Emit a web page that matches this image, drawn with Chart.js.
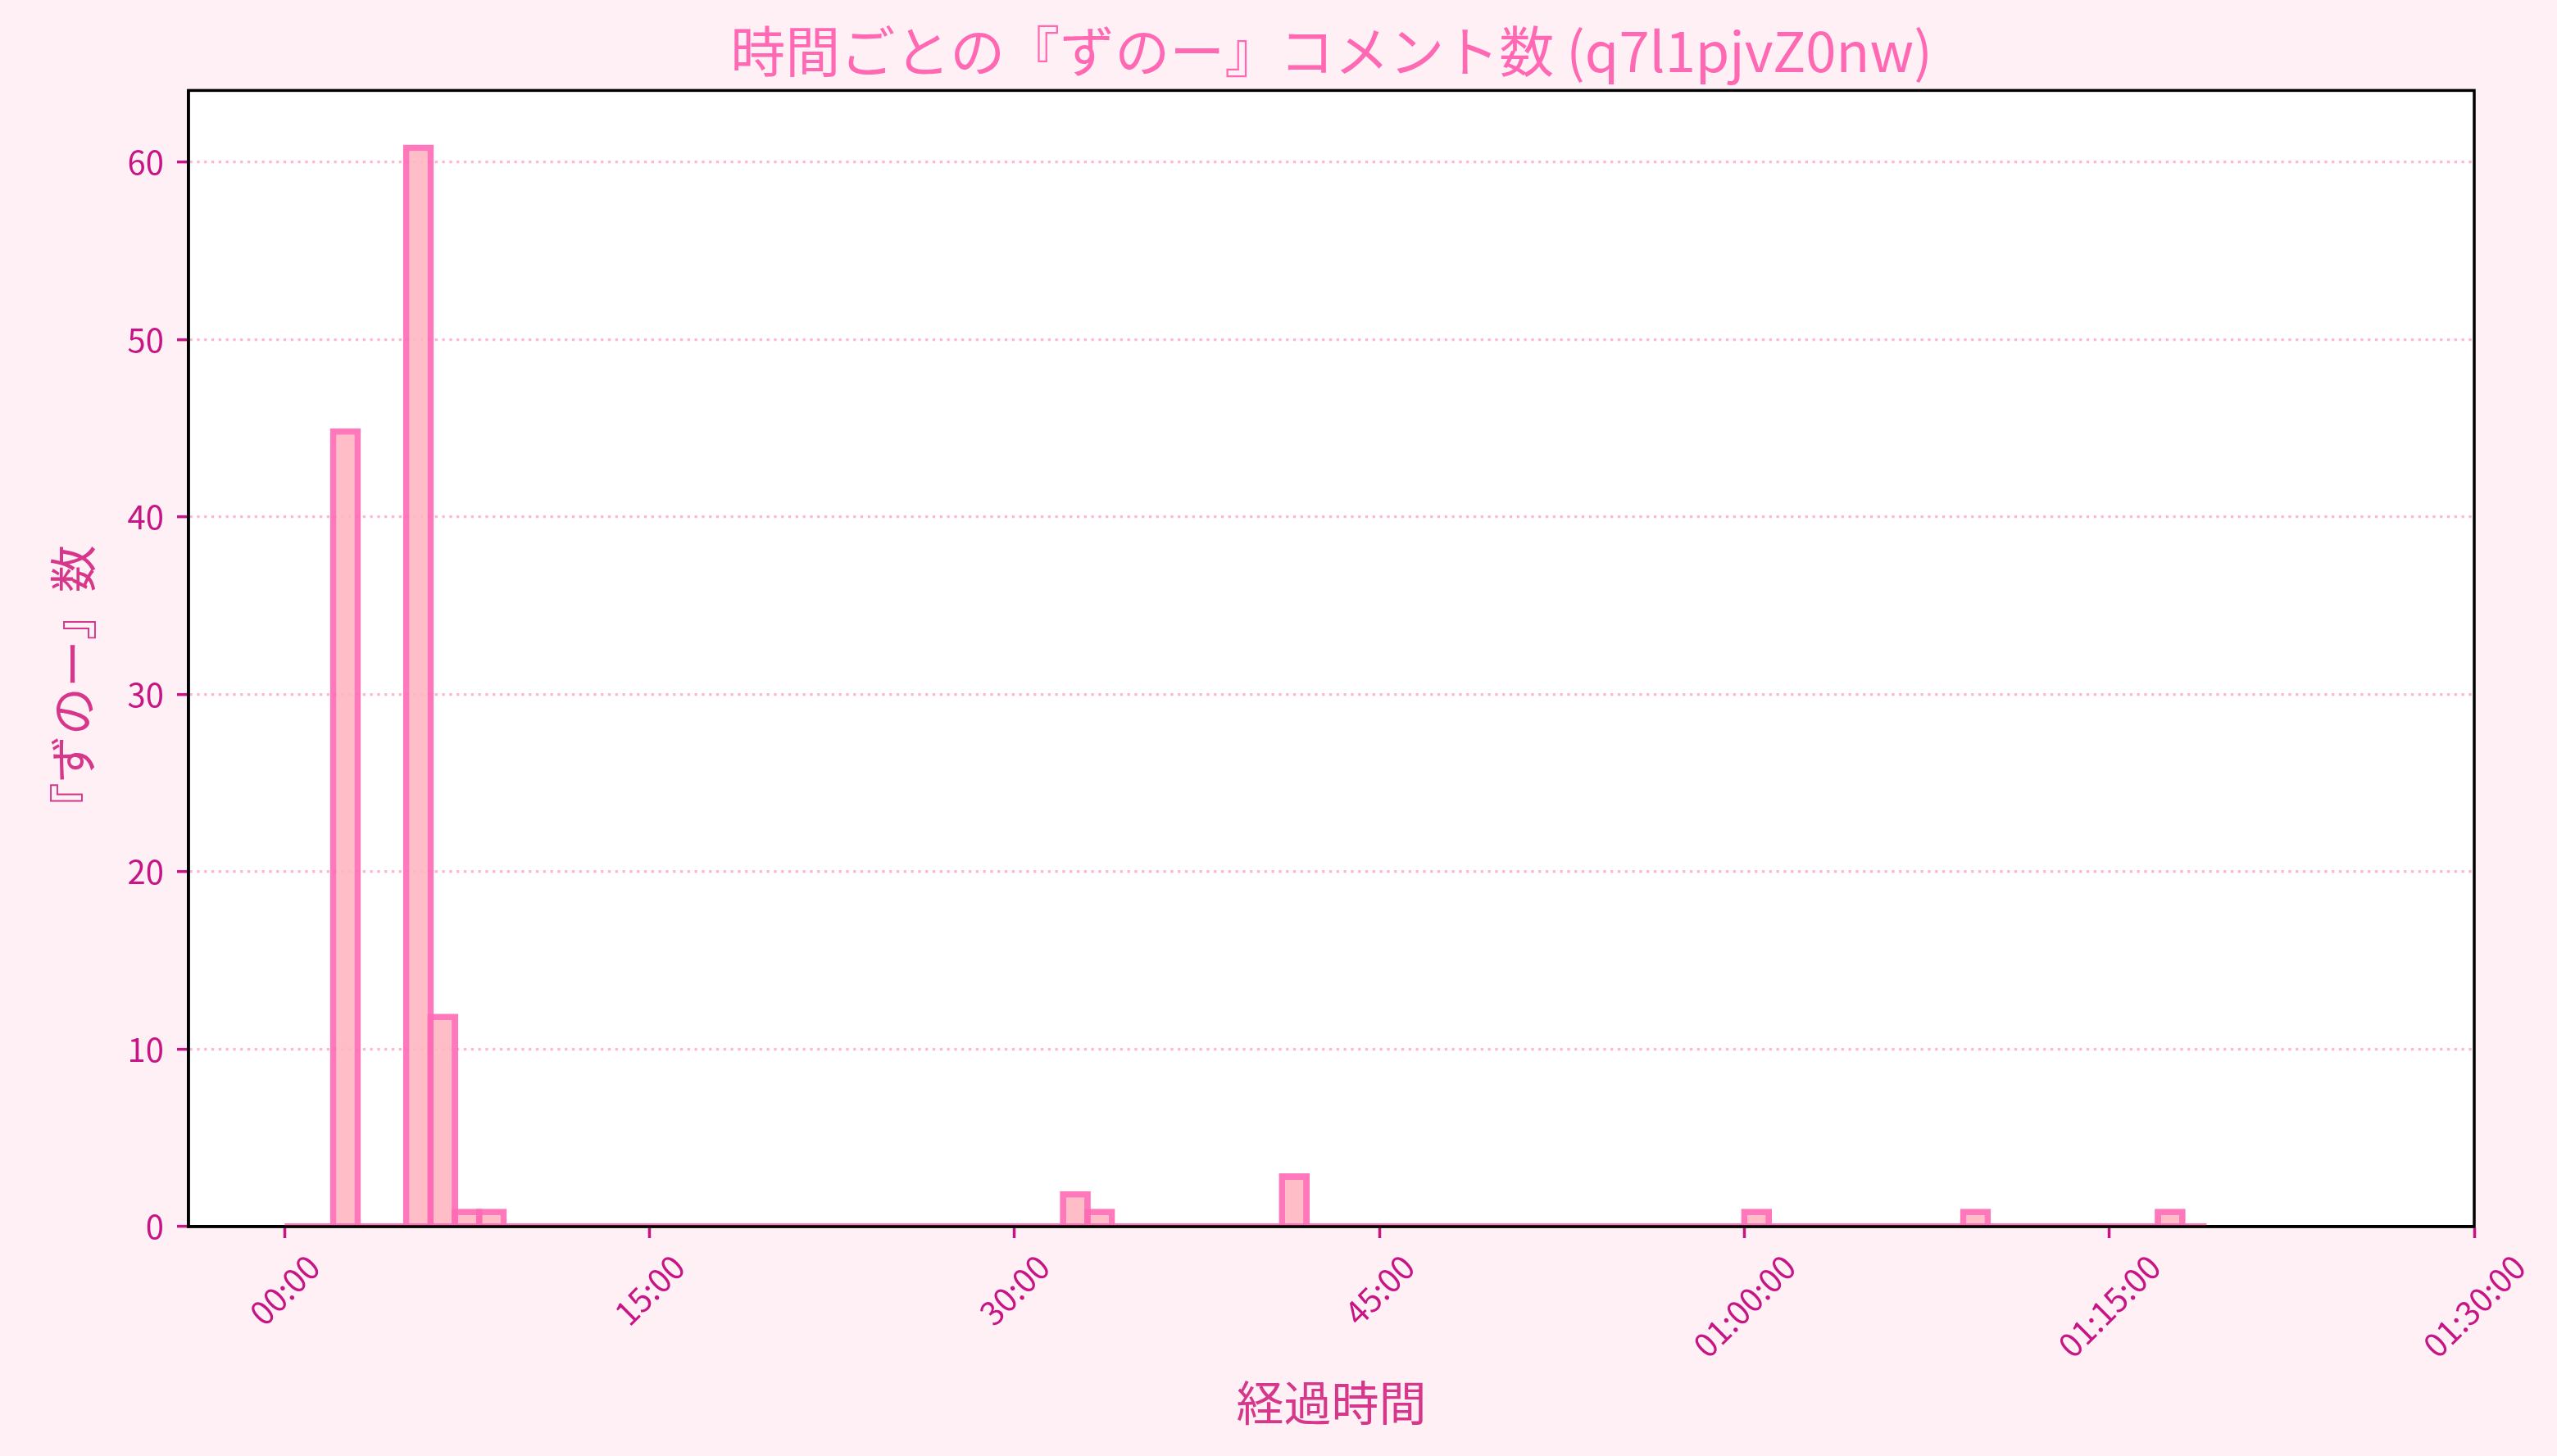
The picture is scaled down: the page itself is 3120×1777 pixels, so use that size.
<!DOCTYPE html>
<html lang="ja">
<head>
<meta charset="utf-8">
<title>時間ごとの『ずのー』コメント数</title>
<script src="https://cdn.jsdelivr.net/npm/chart.js@4.4.1/dist/chart.umd.min.js"></script>
<style>
  html, body { margin: 0; padding: 0; background: #fff0f5; }
  canvas { display: block; }
</style>
</head>
<body>
<canvas id="chart" width="3120" height="1777"></canvas>
<script>
/* ---------- データ (1分ごとのビン) ---------- */
const binWidth = 1; // 分
const counts = [
  0, 0, 45, 0, 0, 61, 12, 1, 1, 0,   // 0-9
  0, 0, 0, 0, 0, 0, 0, 0, 0, 0,      // 10-19
  0, 0, 0, 0, 0, 0, 0, 0, 0, 0,      // 20-29
  0, 0, 2, 1, 0, 0, 0, 0, 0, 0,      // 30-39
  0, 3, 0, 0, 0, 0, 0, 0, 0, 0,      // 40-49
  0, 0, 0, 0, 0, 0, 0, 0, 0, 0,      // 50-59
  1, 0, 0, 0, 0, 0, 0, 0, 0, 1,      // 60-69
  0, 0, 0, 0, 0, 0, 0, 1, 0          // 70-78
];
const xTickValues = [0, 15, 30, 45, 60, 75, 90];
const xTickLabels = ['00:00', '15:00', '30:00', '45:00', '01:00:00', '01:15:00', '01:30:00'];
const yTickValues = [0, 10, 20, 30, 40, 50, 60];
const yTickLabels = ['0', '10', '20', '30', '40', '50', '60'];

const xMin = -0.05 * counts.length * binWidth;
const xMax = 90;
const yMax = Math.max(...counts) * 1.05;

const tickColor = '#c71585';
const labelColor = '#d6378a';
const edgeColor = 'rgba(255,105,180,0.9)';

Chart.defaults.font.family = '"Noto Sans CJK JP", "Noto Sans", sans-serif';

/* 枠と x 軸ラベル (matplotlib 風に 45° 回転・中央揃え) */
const frame = {
  id: 'frame',
  beforeDraw(chart) {
    const {ctx, chartArea: a} = chart;
    ctx.save();
    ctx.fillStyle = '#ffffff';
    ctx.fillRect(a.left, a.top, a.width, a.height);
    ctx.restore();
  },
  afterDatasetsDraw(chart) {
    const {ctx, chartArea: a} = chart;
    ctx.save();
    ctx.strokeStyle = '#000';
    ctx.lineWidth = 3.5;
    ctx.strokeRect(a.left, a.top, a.width, a.height);
    ctx.restore();
  },
  afterDraw(chart) {
    const {ctx, chartArea: a} = chart;
    const xs = chart.scales.x;
    const size = 40;
    ctx.save();
    ctx.font = size + 'px ' + Chart.defaults.font.family;
    ctx.fillStyle = tickColor;
    ctx.textAlign = 'center';
    ctx.textBaseline = 'middle';
    xTickValues.forEach((v, i) => {
      const w = ctx.measureText(xTickLabels[i]).width;
      const px = xs.getPixelForValue(v);
      const py = a.bottom + 28 + (w + size) * Math.SQRT1_2 / 2;
      ctx.save();
      ctx.translate(px, py);
      ctx.rotate(-Math.PI / 4);
      ctx.fillText(xTickLabels[i], 0, 0);
      ctx.restore();
    });
    ctx.restore();
  }
};

new Chart(document.getElementById('chart'), {
  type: 'bar',
  data: {
    datasets: [
      {
        type: 'bar',
        label: 'ずのー',
        data: counts.map((c, i) => ({x: (i + 0.5) * binWidth, y: c})),
        backgroundColor: 'rgba(255,182,193,0.9)',
        borderColor: edgeColor,
        borderWidth: 8,
        barPercentage: 1.27,
        categoryPercentage: 1,
        order: 1
      },
      {
        // 高さ 0 のビンの縁 (ベースライン)
        type: 'line',
        label: 'base',
        data: [{x: 0, y: 0}, {x: counts.length * binWidth, y: 0}],
        borderColor: edgeColor,
        borderWidth: 8,
        pointRadius: 0,
        clip: 0,
        order: 0
      }
    ]
  },
  options: {
    responsive: false,
    animation: false,
    layout: { padding: { left: 0, right: 101, top: 0, bottom: 0 } },
    scales: {
      x: {
        type: 'linear',
        min: xMin,
        max: xMax,
        offset: false,
        afterBuildTicks: s => { s.ticks = xTickValues.map(v => ({value: v})); },
        afterFit: s => { s.height = 280; },
        ticks: { display: false },
        grid: {
          offset: false,
          drawOnChartArea: false,
          drawTicks: true,
          tickLength: 14,
          tickWidth: 3.5,
          tickColor: tickColor
        },
        border: { display: true, color: '#000', width: 3.5 },
        title: {
          display: true,
          text: '経過時間',
          color: labelColor,
          font: { size: 58 },
          padding: { top: 0, bottom: 30 }
        }
      },
      y: {
        type: 'linear',
        min: 0,
        max: yMax,
        afterBuildTicks: s => { s.ticks = yTickValues.map(v => ({value: v})); },
        afterFit: s => { s.width = 230; },
        ticks: {
          color: tickColor,
          font: { size: 40 },
          padding: 16,
          callback: (v, i) => yTickLabels[i]
        },
        grid: {
          color: 'rgba(255,105,180,0.5)',
          lineWidth: 3.3,
          drawTicks: true,
          tickLength: 14,
          tickWidth: 3.5,
          tickColor: tickColor
        },
        border: { display: true, color: '#000', width: 3.5, dash: [3.3, 5.5] },
        title: {
          display: true,
          text: '『ずのー』数\u3000 ',
          color: labelColor,
          font: { size: 58 },
          padding: { top: 54, bottom: 0 }
        }
      }
    },
    plugins: {
      legend: { display: false },
      tooltip: { enabled: false },
      title: {
        display: true,
        text: '時間ごとの『ずのー』コメント数 (q7l1pjvZ0nw)',
        color: '#ff69b4',
        font: { size: 67, weight: 'normal' },
        padding: { top: 22, bottom: 8 },
        fullSize: false
      }
    }
  },
  plugins: [frame]
});
</script>
</body>
</html>
